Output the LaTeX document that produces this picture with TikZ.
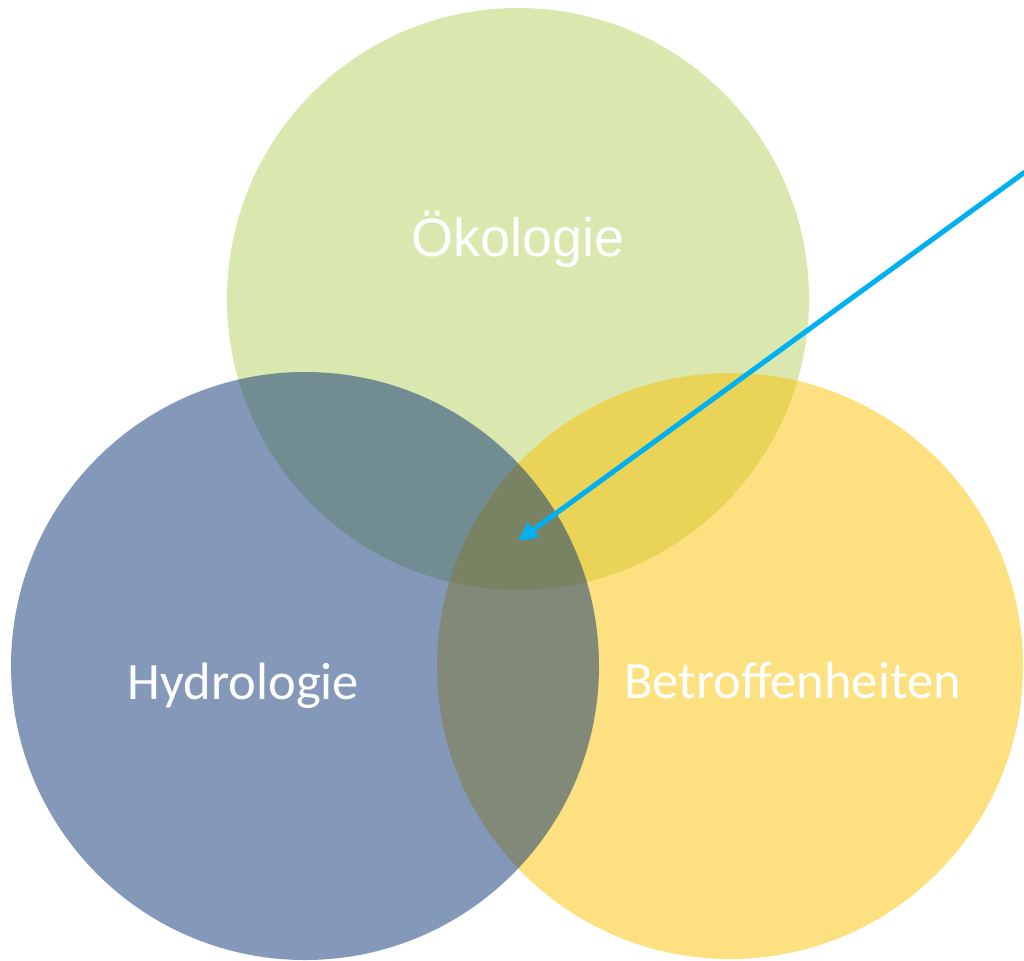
\documentclass[tikz,border=0pt]{standalone}
\usepackage{fontspec}
\newfontfamily\arialf{Liberation Sans}
\newfontfamily\calibrif{Carlito}
\usetikzlibrary{arrows.meta}
\definecolor{oekogreen}{RGB}{181,209,97}
\definecolor{betroyellow}{RGB}{251,193,0}
\definecolor{hydroblue}{RGB}{9,51,115}
\definecolor{arrowcyan}{RGB}{0,176,240}
\begin{document}
\begin{tikzpicture}[x=1pt,y=-1pt,
  venn/.style={circle,draw=none,fill opacity=0.5,inner sep=0pt,minimum size=#1},
  lbl/.style={text=white,anchor=base,inner sep=0pt},
  pointer/.style={draw=arrowcyan,line width=5pt,-{Triangle[length=19pt,width=18pt]}}]
\useasboundingbox (0,0) rectangle (1024,960);
\node[venn=582pt,fill=oekogreen] (oeko) at (518,299) {};
\node[venn=586pt,fill=betroyellow] (betro) at (730,666) {};
\node[venn=588pt,fill=hydroblue] (hydro) at (305,666) {};
\node[lbl,font=\arialf\fontsize{54}{60}\selectfont] (toeko) at (518,256) {Ökologie};
\node[lbl,font=\calibrif\fontsize{52.5}{60}\selectfont] (thydro) at (243.5,699) {Hydrologie};
\node[lbl,font=\calibrif\fontsize{52.5}{60}\selectfont] (tbetro) at (792.5,698) {Betroffenheiten};
\coordinate (start) at (1025,172);
\coordinate (tip) at (518,541);
\draw[pointer] (start) -- (tip);
\end{tikzpicture}
\end{document}
